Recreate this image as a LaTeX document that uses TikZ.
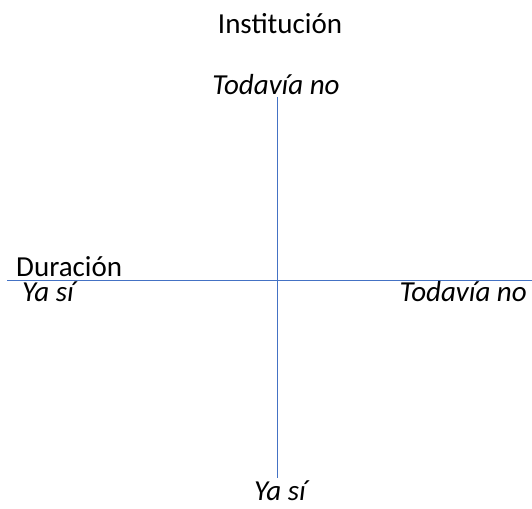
\documentclass[tikz,border=0pt]{standalone}
\usepackage{fontspec}
\setmainfont{Carlito}
\definecolor{axisblue}{HTML}{4472C4}
\begin{document}
\begin{tikzpicture}[x=1pt,y=-1pt,
  lbl/.style={inner sep=0pt,font=\fontsize{29}{34}\selectfont,text=black},
  ilbl/.style={lbl,font=\fontsize{29}{34}\selectfont\itshape},
  axis/.style={draw=axisblue,line width=1.1pt}]
\useasboundingbox (0,0) rectangle (532,508);
\coordinate (hl) at (7,280.5);
\coordinate (hr) at (532,280.5);
\coordinate (vt) at (277.5,97);
\coordinate (vb) at (277.5,478);
\draw[axis] (hl) -- (hr);
\draw[axis] (vt) -- (vb);
\node[lbl,anchor=base] (inst) at (280,34) {Institución};
\node[ilbl,anchor=base] (tnt) at (276,95) {Todavía no};
\node[lbl,anchor=base west] (dur) at (16,276) {Duración};
\node[ilbl,anchor=base west] (ysl) at (22,301) {Ya sí};
\node[ilbl,anchor=base east] (tnr) at (527,301) {Todavía no};
\node[ilbl,anchor=base] (ysb) at (280,500) {Ya sí};
\end{tikzpicture}
\end{document}
